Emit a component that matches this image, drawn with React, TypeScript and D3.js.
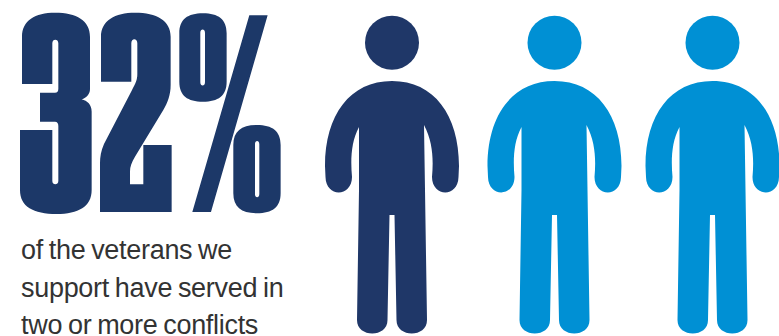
import React from "react";
import * as d3 from "d3";

const WIDTH = 779;
const HEIGHT = 336;

const headline = "32%";
const captionLines = ["of the veterans we", "support have served in", "two or more conflicts"];
const people = ["a", "b", "c"];
const highlightedCount = 1;
const NAVY = "#1f3768";
const BLUE = "#0090d4";

// No heavy condensed display face is installed, so the headline text is dilated
// and painted through these letterforms. Units are thirds of a pixel.
const letterThree =
  "M66 252 L66 110 C66 62 105 38 165 38 C230 38 270 62 270 110 L270 268 C270 282 260 294 245 298 C262 302 275 314 275 335 L275 570 C275 620 235 642 170 642 C100 642 60 620 60 570 L60 390 L157 390 L157 543 C157 556 175 556 175 543 L175 378 C175 370 172 365 165 365 L120 365 L120 278 L165 278 C172 278 175 274 175 266 L175 130 C175 116 157 116 157 130 L157 252 Z";
const letterTwo =
  "M303 245 L303 110 C303 62 345 38 405 38 C470 38 512 62 512 110 L512 255 C512 285 503 308 490 330 L405 470 C395 487 390 500 390 515 L390 553 L430 553 L430 435 L515 435 L515 636 L300 636 L300 490 C300 470 303 452 312 432 L395 272 C407 250 412 240 412 222 L412 130 C412 114 394 114 394 130 L394 245 Z";
const letterPercent =
  "M748 46 L803 46 L633 636 L577 636 Z " +
  "M609 40 C655 40 680 58 680 100 L680 245 C680 287 655 305 609 305 C563 305 538 287 538 245 L538 100 C538 58 563 40 609 40 Z " +
  "M601 98 L601 247 C601 260 615 260 615 247 L615 98 C615 85 601 85 601 98 Z " +
  "M771 375 C817 375 842 393 842 435 L842 580 C842 622 817 640 771 640 C725 640 700 622 700 580 L700 435 C700 393 725 375 771 375 Z " +
  "M765 433 L765 582 C765 595 778 595 778 582 L778 433 C778 420 765 420 765 433 Z";

// Pictogram outline, centred on x = 0; y measured from the top of the page.
function personPath(): string {
  const p = d3.path();
  p.moveTo(0, 81);
  p.bezierCurveTo(-42, 81, -67, 115, -67, 166);
  p.lineTo(-66.5, 177);
  p.bezierCurveTo(-66, 198, -40, 197, -40, 177);
  p.bezierCurveTo(-41.5, 160, -41, 142, -33, 127);
  p.lineTo(-33, 190);
  p.lineTo(-35, 320);
  p.bezierCurveTo(-35, 338, -4.5, 338, -4.5, 320);
  p.lineTo(-2.5, 215);
  p.lineTo(2.5, 215);
  p.lineTo(4.5, 320);
  p.bezierCurveTo(4.5, 338, 35, 338, 35, 320);
  p.lineTo(33, 190);
  p.lineTo(32, 125);
  p.bezierCurveTo(41, 142, 41.5, 160, 40, 177);
  p.bezierCurveTo(40, 197, 66, 198, 66.5, 177);
  p.lineTo(67, 166);
  p.bezierCurveTo(67, 115, 42, 81, 0, 81);
  p.closePath();
  return p.toString();
}

export default function App() {
  const x = d3.scaleOrdinal<string, number>().domain(people).range([392, 554.5, 712.5]);
  const color = (i: number) => (i < highlightedCount ? NAVY : BLUE);
  const body = personPath();
  return (
    <svg
      width={WIDTH}
      height={HEIGHT}
      viewBox={`0 0 ${WIDTH} ${HEIGHT}`}
      style={{ position: "fixed", left: 0, top: 0, background: "#fff" }}
    >
      <defs>
        <clipPath id="headline-letters">
          {[letterThree, letterTwo, letterPercent].map((d, i) => (
            <path key={i} d={d} clipRule="evenodd" transform="scale(0.3333)" />
          ))}
        </clipPath>
        <filter
          id="headline-dilate"
          filterUnits="userSpaceOnUse"
          x={-100}
          y={-100}
          width={WIDTH}
          height={HEIGHT + 100}
        >
          <feMorphology operator="dilate" radius={60} />
        </filter>
      </defs>
      <g clipPath="url(#headline-letters)">
        <g filter="url(#headline-dilate)">
          <text
            x={20}
            y={170}
            textLength={261}
            lengthAdjust="spacingAndGlyphs"
            fontFamily="'Liberation Sans Narrow'"
            fontWeight={700}
            fontSize={174}
            fill={NAVY}
          >
            {headline}
          </text>
        </g>
      </g>
      {captionLines.map((line, i) => (
        <text
          key={line}
          x={21}
          y={259 + i * 37.5}
          fontFamily="'Liberation Sans'"
          fontSize={27}
          letterSpacing={-0.3}
          wordSpacing={-1.4}
          fill="#333333"
        >
          {line}
        </text>
      ))}
      {people.map((id, i) => (
        <g key={id} transform={`translate(${x(id)},0)`} fill={color(i)}>
          <circle cx={0} cy={42.7} r={27} />
          <path d={body} />
        </g>
      ))}
    </svg>
  );
}
